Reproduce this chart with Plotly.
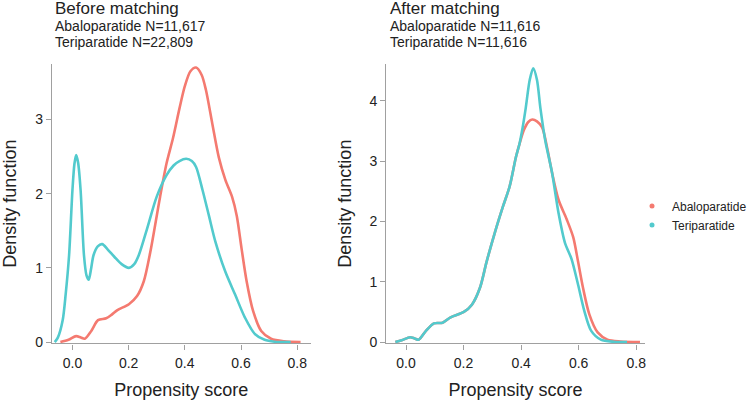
import plotly.graph_objects as go

# ---------------- data ----------------
series_names = ["Abaloparatide", "Teriparatide"]
colors = ["#F47A70", "#52CACD"]

# Before matching
before_abalo_x = [-0.043, -0.014, 0.013, 0.03, 0.044, 0.067, 0.091, 0.12, 0.14, 0.16, 0.201, 0.23, 0.254,
                  0.277, 0.30, 0.312, 0.335, 0.358, 0.381, 0.40, 0.42, 0.44, 0.46, 0.475, 0.498, 0.521,
                  0.544, 0.568, 0.585, 0.602, 0.62, 0.643, 0.672, 0.707, 0.753, 0.812]
before_abalo_y = [0.0, 0.03, 0.08, 0.06, 0.045, 0.15, 0.295, 0.32, 0.37, 0.43, 0.51, 0.62, 0.82,
                  1.21, 1.70, 1.96, 2.41, 2.75, 3.15, 3.45, 3.65, 3.70, 3.60, 3.40, 2.94, 2.49,
                  2.19, 1.96, 1.70, 1.26, 0.82, 0.42, 0.15, 0.045, 0.01, 0.0]

before_teri_x = [-0.063, -0.052, -0.035, -0.024, -0.012, 0.0, 0.007, 0.013, 0.020, 0.029, 0.041, 0.050,
                 0.058, 0.066, 0.075, 0.09, 0.106, 0.125, 0.149, 0.175, 0.201, 0.22, 0.236, 0.265,
                 0.300, 0.335, 0.36, 0.381, 0.405, 0.425, 0.44, 0.463, 0.486, 0.509, 0.544, 0.579,
                 0.614, 0.649, 0.684, 0.719, 0.777]
before_teri_y = [0.0, 0.06, 0.29, 0.65, 1.17, 2.05, 2.40, 2.52, 2.42, 2.05, 1.17, 0.90,
                 0.84, 0.98, 1.17, 1.29, 1.32, 1.25, 1.15, 1.05, 1.00, 1.05, 1.17, 1.52,
                 1.96, 2.25, 2.38, 2.44, 2.47, 2.44, 2.36, 2.05, 1.70, 1.35, 0.95, 0.64,
                 0.33, 0.11, 0.03, 0.005, 0.0]

# After matching
after_abalo_x = [-0.037, -0.015, 0.014, 0.03, 0.044, 0.070, 0.097, 0.127, 0.155, 0.201, 0.229, 0.257,
                 0.280, 0.309, 0.337, 0.360, 0.382, 0.394, 0.41, 0.425, 0.439, 0.455, 0.473, 0.49,
                 0.507, 0.53, 0.558, 0.581, 0.598, 0.615, 0.637, 0.666, 0.70, 0.745, 0.813]
after_abalo_y = [0.0, 0.03, 0.08, 0.06, 0.04, 0.19, 0.31, 0.32, 0.41, 0.50, 0.62, 0.90,
                 1.33, 1.82, 2.25, 2.58, 3.07, 3.28, 3.52, 3.65, 3.69, 3.66, 3.56, 3.23,
                 2.82, 2.36, 2.04, 1.74, 1.33, 0.90, 0.46, 0.16, 0.04, 0.01, 0.0]

after_teri_x = [-0.037, -0.015, 0.014, 0.03, 0.044, 0.070, 0.097, 0.127, 0.155, 0.201, 0.229, 0.257,
                0.280, 0.309, 0.337, 0.360, 0.382, 0.394, 0.405, 0.416, 0.43, 0.442, 0.455, 0.467,
                0.484, 0.507, 0.53, 0.552, 0.575, 0.598, 0.620, 0.643, 0.677, 0.722, 0.768]
after_teri_y = [0.0, 0.03, 0.08, 0.06, 0.04, 0.19, 0.31, 0.32, 0.41, 0.50, 0.62, 0.90,
                1.33, 1.82, 2.25, 2.58, 3.07, 3.28, 3.55, 3.88, 4.35, 4.54, 4.35, 3.88,
                3.34, 2.82, 2.14, 1.65, 1.38, 0.95, 0.51, 0.19, 0.04, 0.005, 0.0]

x_ticks = [0.0, 0.2, 0.4, 0.6, 0.8]
x_tick_labels = ["0.0", "0.2", "0.4", "0.6", "0.8"]
before_y_ticks = [0, 1, 2, 3]
after_y_ticks = [0, 1, 2, 3, 4]

titles = ["Before matching", "After matching"]
subtitles = [["Abaloparatide N=11,617", "Teriparatide N=22,809"],
             ["Abaloparatide N=11,616", "Teriparatide N=11,616"]]

# ---------------- figure ----------------
W, H = 752, 400
FONT = "Arial, Liberation Sans, sans-serif"
AXIS_COL = "#A0A0A0"
TXT_COL = "#222222"

fig = go.Figure()

panels = [
    ("x", "y", [(before_abalo_x, before_abalo_y), (before_teri_x, before_teri_y)]),
    ("x2", "y2", [(after_abalo_x, after_abalo_y), (after_teri_x, after_teri_y)]),
]
for xa, ya, curves in panels:
    for i, (xs, ys) in enumerate(curves):
        fig.add_trace(go.Scatter(
            x=xs, y=ys, mode="lines", xaxis=xa, yaxis=ya,
            line=dict(color=colors[i], width=2.6, shape="spline", smoothing=0.8),
            name=series_names[i], showlegend=False, hoverinfo="x+y",
        ))

# legend entries (dots)
for i, nm in enumerate(series_names):
    fig.add_trace(go.Scatter(
        x=[None], y=[None], mode="markers", name=nm, xaxis="x", yaxis="y",
        marker=dict(color=colors[i], size=5),
    ))

def px_x(p):
    return p / W

def px_y(p):
    return 1 - p / H

y_dom = [px_y(349.5), px_y(65)]
common_axis = dict(
    showline=True, linecolor=AXIS_COL, linewidth=1.3, ticks="outside", tickcolor=AXIS_COL,
    ticklen=5, tickwidth=1.3, showgrid=False, zeroline=False,
    tickfont=dict(family=FONT, size=14, color=TXT_COL),
)

fig.update_layout(
    width=W, height=H,
    margin=dict(l=0, r=0, t=0, b=0),
    paper_bgcolor="white", plot_bgcolor="white",
    font=dict(family=FONT, color=TXT_COL),
    showlegend=True,
    legend=dict(x=px_x(645), y=px_y(195), xanchor="left", yanchor="top",
                font=dict(family=FONT, size=12, color=TXT_COL),
                bgcolor="rgba(0,0,0,0)", tracegroupgap=0),
    xaxis=dict(domain=[px_x(53), px_x(317)], range=[-0.073, 0.848], anchor="y",
               tickvals=x_ticks, ticktext=x_tick_labels, ticklabelstandoff=2,
               title=dict(text="Propensity score", font=dict(family=FONT, size=18, color=TXT_COL), standoff=14),
               **common_axis),
    yaxis=dict(domain=y_dom, range=[-0.018, 3.75], anchor="x",
               tickvals=before_y_ticks,
               title=dict(text="Density function", font=dict(family=FONT, size=18, color=TXT_COL), standoff=14),
               **common_axis),
    xaxis2=dict(domain=[px_x(394), px_x(658)], range=[-0.069, 0.83], anchor="y2",
                tickvals=x_ticks, ticktext=x_tick_labels, ticklabelstandoff=2,
                title=dict(text="Propensity score", font=dict(family=FONT, size=18, color=TXT_COL), standoff=14),
                **common_axis),
    yaxis2=dict(domain=y_dom, range=[-0.022, 4.614], anchor="x2",
                tickvals=after_y_ticks,
                title=dict(text="Density function", font=dict(family=FONT, size=18, color=TXT_COL), standoff=13),
                **common_axis),
)

title_x = [54, 396]
for k in range(2):
    fig.add_annotation(text=titles[k], x=px_x(title_x[k]), y=px_y(8.5), xref="paper", yref="paper",
                       xanchor="left", yanchor="middle", showarrow=False,
                       font=dict(family=FONT, size=17, color=TXT_COL))
    for j, line in enumerate(subtitles[k]):
        fig.add_annotation(text=line, x=px_x(title_x[k]), y=px_y(26 + 16.6 * j), xref="paper", yref="paper",
                           xanchor="left", yanchor="middle", showarrow=False,
                           font=dict(family=FONT, size=14, color=TXT_COL))

fig.write_html("out.html", config={"displayModeBar": False},
               post_script="document.body.style.margin='0';")
